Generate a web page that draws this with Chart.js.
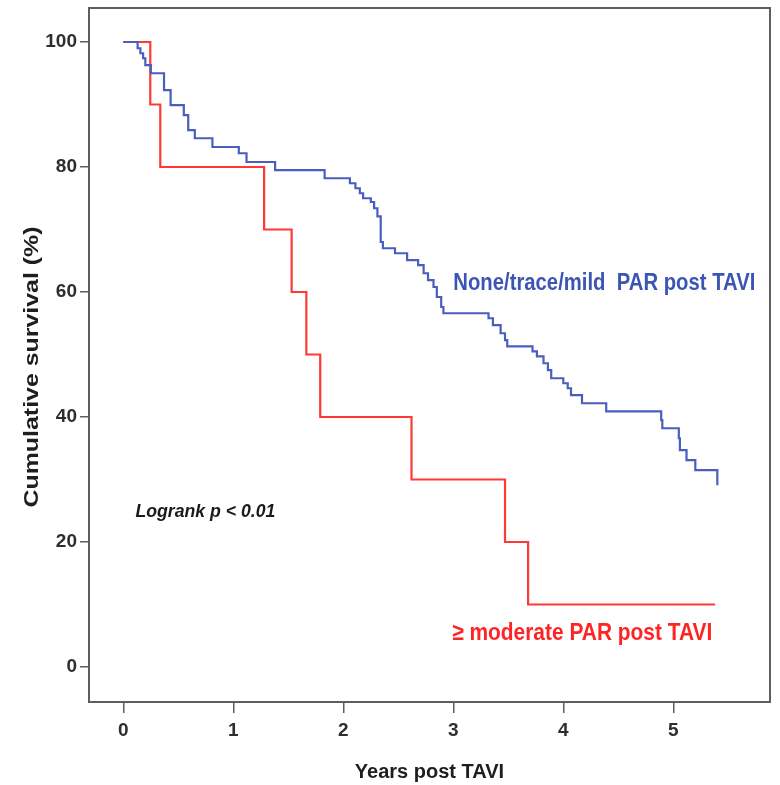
<!DOCTYPE html>
<html>
<head>
<meta charset="utf-8">
<script src="https://cdn.jsdelivr.net/npm/chart.js@4/dist/chart.umd.min.js"></script>
<style>
  html, body { margin: 0; padding: 0; background: #ffffff; }
  #wrap { width: 780px; height: 785px; }
</style>
</head>
<body>
<div id="wrap"><canvas id="km" width="780" height="785"></canvas></div>
<script>
// Axis ticks
const xTicks = [0, 1, 2, 3, 4, 5];
const yTicks = [0, 20, 40, 60, 80, 100];

// Kaplan-Meier curve: none/trace/mild paravalvular regurgitation
const mildTimes = [0, 0.13, 0.155, 0.18, 0.20, 0.25, 0.37, 0.43, 0.55, 0.59, 0.65, 0.81, 1.05, 1.12, 1.38,
  1.83, 2.06, 2.11, 2.15, 2.18, 2.25, 2.28, 2.31, 2.34, 2.36, 2.47, 2.58, 2.68, 2.73, 2.77, 2.82, 2.85, 2.89, 2.91,
  3.32, 3.36, 3.43, 3.47, 3.49, 3.72, 3.76, 3.82, 3.86, 3.89, 4.00, 4.04, 4.07, 4.17, 4.39,
  4.89, 4.90, 5.05, 5.06, 5.12, 5.20, 5.40];
const mildSurvival = [100, 99.0, 98.2, 97.4, 96.3, 95.0, 92.3, 89.9, 88.3, 85.9, 84.6, 83.2, 82.2, 80.8, 79.5,
  78.2, 77.4, 76.6, 75.8, 75.0, 74.4, 73.4, 72.1, 68.0, 67.0, 66.2, 65.1, 64.3, 63.0, 61.9, 60.8, 59.2, 57.6, 56.6,
  55.8, 54.7, 53.4, 52.3, 51.3, 50.5, 49.7, 48.6, 47.5, 46.2, 45.4, 44.6, 43.5, 42.2, 40.9,
  39.5, 38.2, 36.6, 34.7, 33.1, 31.5, 29.1];

// Kaplan-Meier curve: moderate or worse paravalvular regurgitation
const modTimes = [0, 0.245, 0.336, 1.28, 1.53, 1.664, 1.79, 2.62, 3.47, 3.68, 5.38];
const modSurvival = [100, 90, 80, 70, 60, 50, 40, 30, 20, 10, 10];

// Texts
const xTitle = 'Years post TAVI';
const yTitle = 'Cumulative survival (%)';
const mildLabel = 'None/trace/mild  PAR post TAVI';
const modLabel = '\u2265 moderate PAR post TAVI';
const pValueText = 'Logrank p < 0.01';

const FAMILY = "'Liberation Sans', Arial, sans-serif";
const BLUE = '#4a5ec0';
const RED = '#ff3838';
const AXIS = '#5e5e5e';

function toPoints(xs, ys) {
  return xs.map((x, i) => ({ x: x, y: ys[i] }));
}

// Box around the plotting area
const framePlugin = {
  id: 'frame',
  beforeDatasetsDraw(chart) {
    const a = chart.chartArea;
    const ctx = chart.ctx;
    ctx.save();
    ctx.strokeStyle = AXIS;
    ctx.lineWidth = 2;
    ctx.strokeRect(a.left, a.top, a.right - a.left, a.bottom - a.top);
    ctx.restore();
  }
};

// Draws a string squeezed or stretched to a given length
function fitText(ctx, text, font, color, x, y, length, rotate) {
  ctx.save();
  ctx.font = font;
  ctx.fillStyle = color;
  ctx.textBaseline = 'middle';
  const w = ctx.measureText(text).width;
  ctx.translate(x, y);
  if (rotate) {
    ctx.rotate(-Math.PI / 2);
    ctx.textAlign = 'center';
  } else {
    ctx.textAlign = 'left';
  }
  ctx.scale(length / w, 1);
  ctx.fillText(text, 0, 0);
  ctx.restore();
}

// Curve labels and test result, anchored in data coordinates
const notes = [
  { text: mildLabel, x: 3.0, y: 61.4, width: 302, font: 'bold 24px ' + FAMILY, color: '#3c55b4' },
  { text: modLabel, x: 2.99, y: 5.4, width: 260, font: 'bold 24px ' + FAMILY, color: '#ff2424' },
  { text: pValueText, x: 0.11, y: 24.8, width: 140, font: 'italic bold 18px ' + FAMILY, color: '#1a1a1a' }
];
const notesPlugin = {
  id: 'notes',
  afterDatasetsDraw(chart) {
    const ctx = chart.ctx;
    const xs = chart.scales.x, ys = chart.scales.y;
    notes.forEach(n => {
      fitText(ctx, n.text, n.font, n.color, xs.getPixelForValue(n.x), ys.getPixelForValue(n.y), n.width, false);
    });
    // vertical axis title, centred on the plotting area
    const a = chart.chartArea;
    fitText(ctx, yTitle, 'bold 20px ' + FAMILY, '#1e1e1e', 32, (a.top + a.bottom) / 2 + 12, 281, true);
  }
};

new Chart(document.getElementById('km'), {
  type: 'line',
  data: {
    datasets: [
      {
        label: mildLabel,
        data: toPoints(mildTimes, mildSurvival),
        borderColor: BLUE,
        borderWidth: 2.2,
        stepped: 'before',
        pointRadius: 0,
        fill: false
      },
      {
        label: modLabel,
        data: toPoints(modTimes, modSurvival),
        borderColor: RED,
        borderWidth: 2.2,
        stepped: 'before',
        pointRadius: 0,
        fill: false
      }
    ]
  },
  options: {
    responsive: false,
    animation: false,
    devicePixelRatio: 1,
    layout: { padding: { top: 8, right: 10, left: 0, bottom: 0 } },
    plugins: {
      legend: { display: false },
      tooltip: { enabled: false }
    },
    scales: {
      x: {
        type: 'linear',
        min: -0.312,
        max: 5.879,
        afterBuildTicks: s => { s.ticks = xTicks.map(v => ({ value: v })); },
        afterFit: s => { s.height = 83; s.paddingLeft = 0; s.paddingRight = 0; },
        ticks: {
          font: { family: FAMILY, size: 19, weight: 'bold' },
          color: '#2e2e2e',
          padding: 6,
          autoSkip: false,
          maxRotation: 0
        },
        grid: { drawOnChartArea: false, drawTicks: true, tickLength: 11, color: AXIS, lineWidth: 1.5 },
        border: { display: false },
        title: {
          display: true,
          text: xTitle,
          color: '#1e1e1e',
          font: { family: FAMILY, size: 20, weight: 'bold', lineHeight: 1.2 },
          padding: { top: 0, bottom: 1 }
        }
      },
      y: {
        type: 'linear',
        min: -5.6,
        max: 105.44,
        afterBuildTicks: s => { s.ticks = yTicks.map(v => ({ value: v })); },
        afterFit: s => { s.width = 89; s.paddingTop = 0; s.paddingBottom = 0; },
        ticks: {
          font: { family: FAMILY, size: 19, weight: 'bold' },
          color: '#2e2e2e',
          padding: 3
        },
        grid: { drawOnChartArea: false, drawTicks: true, tickLength: 9, color: AXIS, lineWidth: 1.5 },
        border: { display: false },
        title: { display: false, text: yTitle }
      }
    }
  },
  plugins: [framePlugin, notesPlugin]
});
</script>
</body>
</html>
